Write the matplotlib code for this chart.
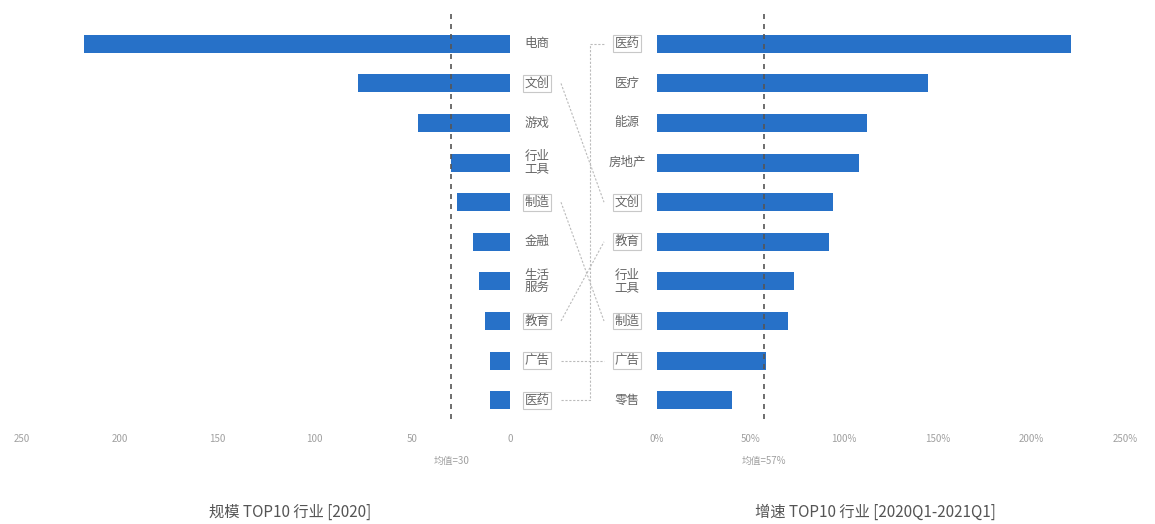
import matplotlib
matplotlib.use("Agg")
import matplotlib.pyplot as plt
from matplotlib.transforms import blended_transform_factory
from matplotlib.lines import Line2D

plt.rcParams['font.family'] = ['Noto Sans CJK SC', 'DejaVu Sans']

# scale ranking (2020), top to bottom
size_labels = ["电商", "文创", "游戏", "行业\n工具", "制造", "金融", "生活\n服务", "教育", "广告", "医药"]
size_values = [218, 78, 47, 30, 27, 19, 16, 13, 10, 10]
size_mean = 30

# growth ranking (2020Q1-2021Q1), percent
growth_labels = ["医药", "医疗", "能源", "房地产", "文创", "教育", "行业\n工具", "制造", "广告", "零售"]
growth_values = [221, 145, 112, 108, 94, 92, 73, 70, 58, 40]
growth_mean = 57

size_ticks = [250, 200, 150, 100, 50, 0]
growth_ticks = [0, 50, 100, 150, 200, 250]

# industries that show up in both rankings get boxed and linked
shared = ["文创", "制造", "教育", "广告", "医药"]

bar_color = "#2771c8"
text_gray = "#666666"
tick_gray = "#a0a0a0"
line_gray = "#bbbbbb"

W, H = 1155, 524
fig = plt.figure(figsize=(W / 100, H / 100), dpi=100)
ax1 = fig.add_axes([22 / W, 1 - 420 / H, 488 / W, 396 / H])
ax2 = fig.add_axes([657 / W, 1 - 420 / H, 468 / W, 396 / H])

n = len(size_values)
rows = list(range(n))

ax1.barh(rows, size_values, height=0.45, color=bar_color)
ax2.barh(rows, growth_values, height=0.45, color=bar_color)

ax1.set_xlim(250, 0)
ax2.set_xlim(0, 250)
for ax, ticks, fmt in ((ax1, size_ticks, "{}"), (ax2, growth_ticks, "{}%")):
    ax.set_ylim(n - 0.5, -0.5)
    ax.set_xticks(ticks)
    ax.set_xticklabels([fmt.format(t) for t in ticks])
    ax.set_yticks([])
    ax.tick_params(axis="x", length=0, labelsize=7, labelcolor=tick_gray, pad=10)
    for s in ax.spines.values():
        s.set_visible(False)

# mean lines
for ax, m, txt in ((ax1, size_mean, "均值={}".format(size_mean)),
                   (ax2, growth_mean, "均值={}%".format(growth_mean))):
    ax.plot([m, m], [-0.75, n - 0.4], ls=(0, (3, 3)), lw=1.2, color="#555555",
            clip_on=False, zorder=3)
    ax.text(m, n + 0.53, txt, ha="center", va="center", fontsize=7, color=tick_gray)

trans = blended_transform_factory(fig.transFigure, ax1.transData)
xl, xr = 537 / W, 627 / W

def draw_label(x, y, s):
    kw = dict(ha="center", va="center", fontsize=9, color=text_gray,
              transform=trans, linespacing=0.95, clip_on=False)
    if s in shared:
        kw["bbox"] = dict(boxstyle="square,pad=0.15", fc="white",
                          ec="#c8c8c8", lw=0.8)
    ax1.text(x, y, s, **kw)

for i, s in enumerate(size_labels):
    draw_label(xl, i, s)
for j, s in enumerate(growth_labels):
    draw_label(xr, j, s)

# connectors between matching industries
x_from, x_to, x_bend = 561 / W, 604 / W, 590 / W
for i, s in enumerate(size_labels):
    if s not in shared:
        continue
    j = growth_labels.index(s)
    if s == "医药":
        xs = [x_from, x_bend, x_bend, x_to]
        ys = [i, i, j, j]
    else:
        xs = [x_from, x_to]
        ys = [i, j]
    ax1.add_line(Line2D(xs, ys, transform=trans, color=line_gray, lw=0.8,
                        ls=(0, (2, 1.5)), clip_on=False, zorder=1))

fig.text(290 / W, 1 - 512 / H, "规模 TOP10 行业 [2020]", ha="center", va="center",
         fontsize=11, color="#555555")
fig.text(875 / W, 1 - 512 / H, "增速 TOP10 行业 [2020Q1-2021Q1]", ha="center",
         va="center", fontsize=11, color="#555555")

fig.savefig("out.png", dpi=100, facecolor="white")
